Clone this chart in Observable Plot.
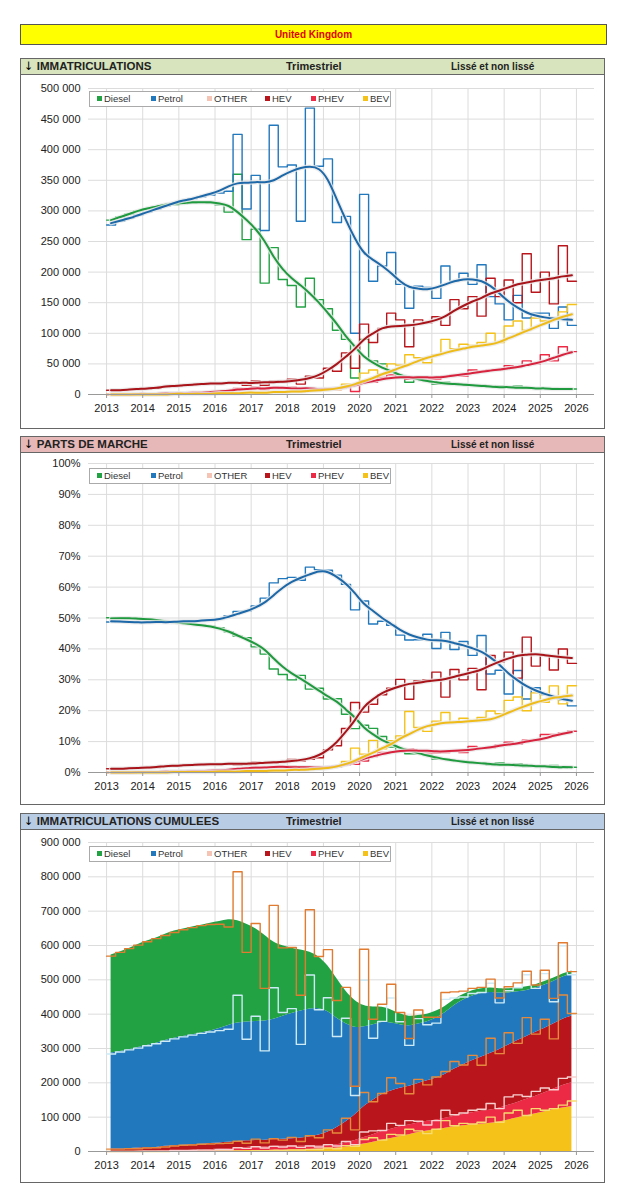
<!DOCTYPE html>
<html><head><meta charset="utf-8">
<script src="https://cdn.jsdelivr.net/npm/d3@7"></script>
<script src="https://cdn.jsdelivr.net/npm/@observablehq/plot@0.6"></script>
<style>
body{margin:0;background:#fff;font-family:"Liberation Sans",Arial,sans-serif;}
#page{position:relative;width:626px;height:1200px;}
.abs{position:absolute;}
.title{left:20px;top:24px;width:585px;height:19px;background:#ffff00;border:1px solid #555;color:#e00000;font-weight:bold;font-size:10px;text-align:center;line-height:19px;}
.panel{left:20px;width:585px;border:1.5px solid #666;box-sizing:border-box;}
.hdr{position:absolute;left:0;top:0;right:0;height:15px;border-bottom:1px solid #666;font-weight:bold;color:#222;}
.hdr > span{position:absolute;top:0;line-height:15px;white-space:nowrap;}
.arrow{font-family:"DejaVu Sans";color:#000;font-weight:normal;}
.legend{position:absolute;left:89px;width:300px;height:14px;border:1px solid #aaa;background:#fff;font-size:9.5px;color:#333;}
.legend span{position:absolute;top:0;line-height:14px;white-space:nowrap;}
.legend i{display:inline-block;width:5px;height:5px;margin-right:2px;vertical-align:1px;}
svg{position:absolute;left:0;}
</style></head><body><div id="page"></div>
<script>
// quarterly data, 2013Q1 .. 2025Q4 (thousands)
const years = d3.range(2013, 2027);
const seriesNames = ["Diesel","Petrol","OTHER","HEV","PHEV","BEV"];
const diesel = [285,290,295,300,303,306,308,310,312,313,314,313,310,298,360,253,270,182,240,188,178,143,190,155,140,105,90,27,90,55,50,40,27,20,25,22,17,20,18,17,15,15,12,14,12,14,10,10,10,10,9,9];
const petrol = [277,283,288,293,298,303,308,312,316,320,323,326,329,332,425,303,358,268,440,372,375,283,468,373,385,281,291,100,327,185,210,232,180,141,177,175,157,210,185,198,180,212,160,148,122,162,125,133,133,108,143,113];
const hev = [7,7,8,8,9,10,12,13,15,16,17,18,18,19,19,15,22,15,22,20,25,17,30,27,43,38,68,43,115,85,108,133,122,78,122,117,127,113,155,140,160,128,190,160,187,150,230,167,200,148,243,185];
const phev = [0,0,0,0,1,1,1,2,2,2,3,3,4,4,10,8,12,8,12,10,12,8,10,7,10,8,12,5,22,20,28,32,28,25,28,25,25,30,32,30,40,38,40,40,47,45,55,50,65,55,78,70];
const bev = [0,0,0,0,0,0,0,1,1,1,1,1,1,1,1,1,2,2,3,3,4,4,6,6,10,8,17,15,35,40,33,50,48,65,60,52,65,90,75,82,80,85,100,85,112,120,105,125,120,125,135,147];
// smoothed (lissé)
const dieselS = [285,290,295,300,304,307,310,312,313,314,314,314,312,308,298,285,270,250,225,205,190,178,165,150,133,115,95,78,62,52,44,38,32,28,25,22,20,18,17,16,15,14,13,12,12,11,11,10,10,9,9,9];
const petrolS = [280,284,288,293,298,303,308,313,317,320,324,328,333,340,345,346,347,347,350,358,365,370,372,368,350,318,285,255,232,220,210,198,185,176,173,172,175,180,185,188,188,185,177,165,152,142,134,129,126,124,123,122];
const hevS = [7,7,8,9,10,11,13,14,15,16,17,18,18,19,19,19,19,20,20,21,22,24,27,32,40,50,62,75,90,100,108,111,112,113,115,118,122,128,137,145,152,158,165,170,175,180,183,186,188,190,193,195];
const phevS = [0,0,0,1,1,1,2,2,2,3,3,4,5,6,8,9,10,10,11,11,10,10,10,9,9,10,12,15,19,22,25,27,28,28,28,28,28,29,31,33,35,37,39,41,43,45,48,51,55,60,65,69];
const bevS = [0,0,0,0,0,0,0,1,1,1,1,1,2,2,2,3,3,3,4,4,5,5,6,7,8,10,13,17,22,27,33,38,44,49,55,60,64,68,72,75,78,80,82,86,92,98,104,110,116,122,127,131];

const colors = {Diesel:"#23a244",Petrol:"#2278bd",OTHER:"#f6c4b4",HEV:"#b8161c",PHEV:"#ec2a46",BEV:"#f5c21a"};
const smColors = {Diesel:"#1f9a3e",Petrol:"#1c68a8",HEV:"#a8141a",PHEV:"#d8233e",BEV:"#efbb18"};
const S = [
  {name:"Diesel",raw:diesel,sm:dieselS},
  {name:"Petrol",raw:petrol,sm:petrolS},
  {name:"HEV",raw:hev,sm:hevS},
  {name:"PHEV",raw:phev,sm:phevS},
  {name:"BEV",raw:bev,sm:bevS}
];
const n = 52;
const tq = i => 2013 + i/4;
const ts = i => 2013 + (i+0.5)/4;
const total = d3.range(n).map(i => S.reduce((a,s)=>a+s.raw[i],0));
const totalS = d3.range(n).map(i => S.reduce((a,s)=>a+s.sm[i],0));
const stepRows = arr => d3.range(n+1).map(i => ({x:tq(i), y:arr[Math.min(i,n-1)]}));
const smRows = arr => d3.range(n).map(i => ({x:ts(i), y:arr[i]}));
const sp = v => d3.format(",")(v).replace(/,/g, "\u00a0");

const page = document.getElementById("page");
function html(s){ page.insertAdjacentHTML("beforeend", s); }
html(`<div class="abs title">United Kingdom</div>`);
function panel(top,h,bg,t1){
  html(`<div class="abs panel" style="top:${top}px;height:${h}px"><div class="hdr" style="background:${bg}">
  <span style="left:3px;font-size:11.5px"><b class="arrow">\u2193\uFE0E</b> ${t1}</span><span style="left:265px;font-size:11px">Trimestriel</span><span style="left:430px;font-size:10px">Lissé et non lissé</span></div></div>`);
}
function legend(top){
  const xs=[96,150,206,264,310,362];
  html(`<div class="legend" style="top:${top}px">`+seriesNames.map((s,k)=>`<span style="left:${xs[k]-89}px"><i style="background:${colors[s]}"></i>${s}</span>`).join("")+`</div>`);
}
panel(58,371,"#d7e4bd","IMMATRICULATIONS");
panel(436,369,"#e6b8b7","PARTS DE MARCHE");
panel(813,370,"#b8cce4","IMMATRICULATIONS CUMULEES");

function chart(top,height,mt,mb,yDomain,yTicks,yFmt,marks){
  const p = Plot.plot({
    width:626,height,marginLeft:88,marginRight:32,marginTop:mt,marginBottom:mb,
    style:{fontFamily:"Liberation Sans, Arial, sans-serif",fontSize:"10.5px",color:"#222",background:"transparent"},
    x:{domain:[2012.5,2026.5],label:null},
    y:{domain:yDomain,label:null},
    marks:[
      Plot.gridX(years,{stroke:"#dcdcdc",strokeOpacity:1}),
      Plot.gridY(yTicks,{stroke:"#dcdcdc",strokeOpacity:1}),
      ...marks,
      Plot.ruleY([0],{stroke:"#999"}),
      Plot.axisX(years,{tickFormat:d=>String(d),tickSize:4,stroke:"#999",tickPadding:6,fontSize:11,label:null}),
      Plot.axisY(yTicks,{tickFormat:yFmt,tickSize:0,tickPadding:8,fontSize:11,label:null})
    ]
  });
  p.style.top = top+"px";
  page.appendChild(p);
}
function lines(get){
  const m=[];
  for(const s of S){
    m.push(Plot.line(stepRows(get(s,"raw")),{x:"x",y:"y",curve:"step-after",stroke:colors[s.name],strokeWidth:1.4}));
  }
  for(const s of S){
    m.push(Plot.line(smRows(get(s,"sm")),{x:"x",y:"y",curve:"natural",stroke:"#e8e8e8",strokeOpacity:0.8,strokeWidth:4.5}));
    m.push(Plot.line(smRows(get(s,"sm")),{x:"x",y:"y",curve:"natural",stroke:smColors[s.name],strokeWidth:2}));
  }
  return m;
}
// Chart 1: registrations
chart(74,354,14,34,[0,500],d3.range(0,501,50),d=>sp(d*1000),lines((s,k)=>s[k]));
legend(91);
// Chart 2: market shares
chart(452,352,11,32,[0,1],d3.range(0,1.01,0.1),d=>Math.round(d*100)+"%",
  lines((s,k)=>s[k].map((v,i)=>v/(k==="raw"?total[i]:totalS[i]))));
legend(468);
// Chart 3: cumulative stacked
const order = ["BEV","PHEV","HEV","Petrol","Diesel"].map(nm=>S.find(s=>s.name===nm));
const areaMarks=[], lineMarks=[];
let baseS = new Array(n).fill(0), baseR = new Array(n).fill(0);
const cumLineColors = {BEV:"#f7dc6f",PHEV:"#f8d0d0",HEV:"#e58a3c",Petrol:"#cdeaf6",Diesel:"#e07b30"};
for(const s of order){
  const lo = baseS.slice(), hi = baseS.map((b,i)=>b+s.sm[i]);
  const rows = d3.range(n).map(i=>({x:ts(i),y1:lo[i],y2:hi[i]}));
  areaMarks.push(Plot.areaY(rows,{x:"x",y1:"y1",y2:"y2",curve:"natural",fill:colors[s.name]}));
  baseS = hi;
  baseR = baseR.map((b,i)=>b+s.raw[i]);
  lineMarks.push(Plot.line(stepRows(baseR.slice()),{x:"x",y:"y",curve:"step-after",stroke:cumLineColors[s.name],strokeWidth:1.4}));
}
chart(831,351,11,31,[0,900],d3.range(0,901,100),d=>sp(d*1000),[...areaMarks,...lineMarks]);
legend(846);
</script></body></html>
